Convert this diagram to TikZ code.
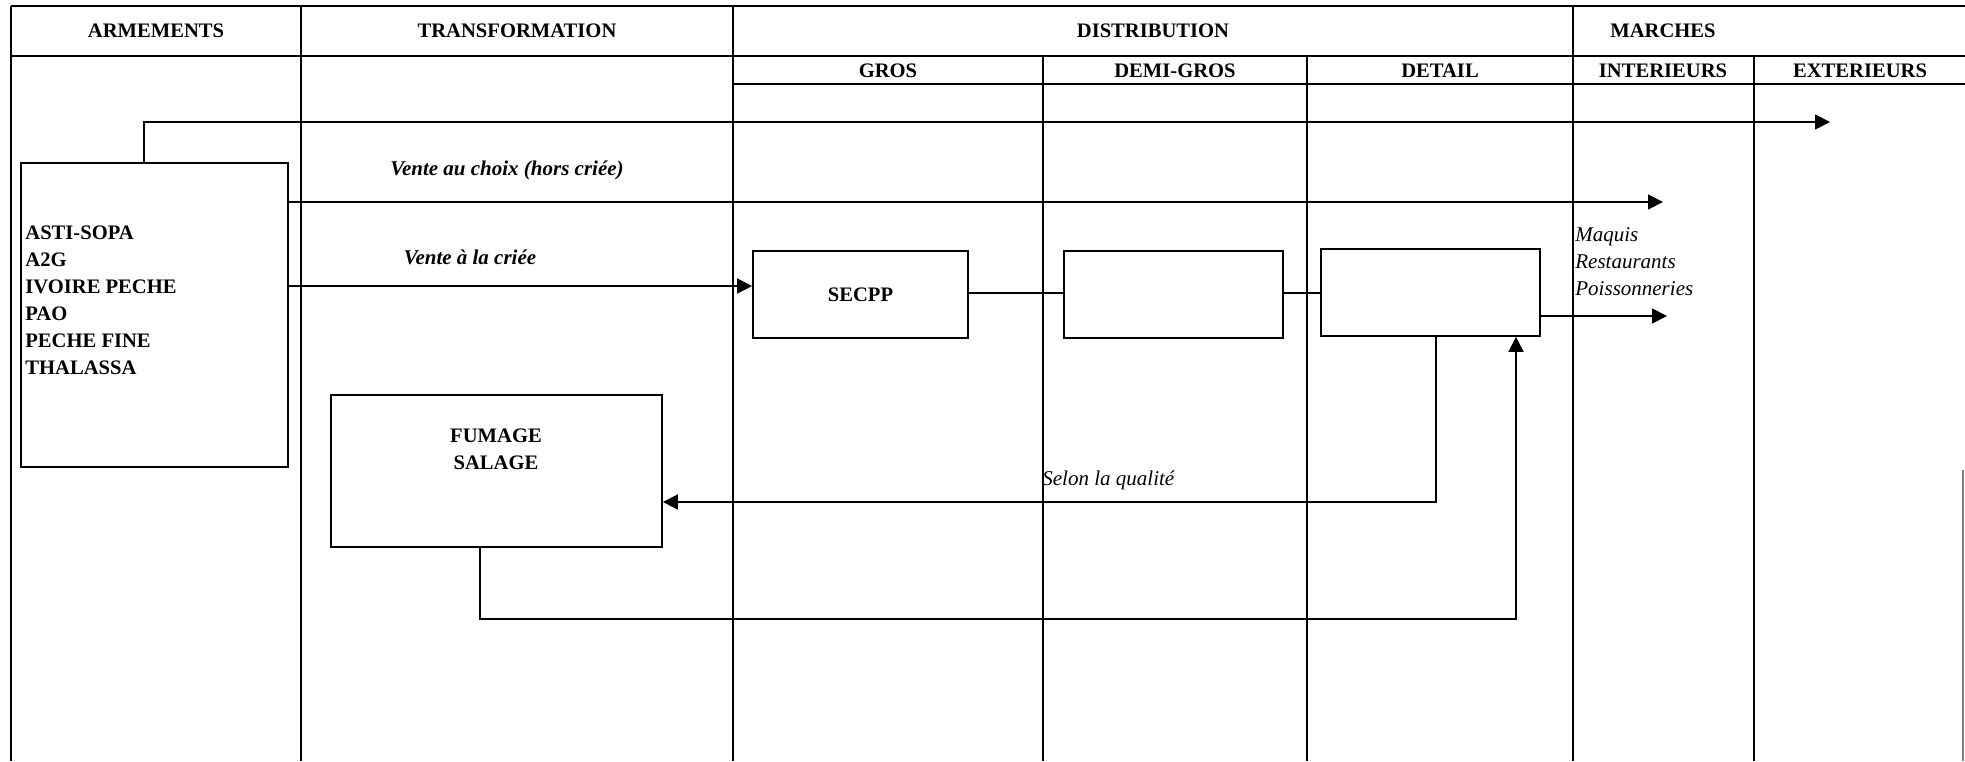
\documentclass[tikz,border=0pt]{standalone}
\usepackage{fontspec}
\setmainfont{Liberation Serif}
\usetikzlibrary{arrows.meta}
\begin{document}
\begin{tikzpicture}[x=0.5pt,y=-0.5pt,
  grid/.style={line width=0.9pt},
  box/.style={draw,rectangle,line width=0.9pt,inner sep=0pt},
  flow/.style={line width=0.9pt},
  arr/.style={flow,-{Triangle[length=7.5pt,width=7.5pt]}},
  head/.style={font=\fontsize{10.3}{12}\selectfont\bfseries,inner sep=0pt},
  boxtext/.style={font=\fontsize{10.3}{13.5}\selectfont\bfseries,inner sep=0pt},
  lab/.style={font=\fontsize{10.5}{13}\selectfont\bfseries\itshape,inner sep=0pt},
  note/.style={font=\fontsize{10.5}{13.5}\selectfont\itshape,align=left,inner sep=0pt},
]
\useasboundingbox (0,0) rectangle (1965,761);

% table frame
\draw[grid] (11,6) -- (1965,6);
\draw[grid] (11,56) -- (1965,56);
\draw[grid] (733,84) -- (1965,84);
\foreach \x in {11,301,733,1573} \draw[grid] (\x,6) -- (\x,761);
\foreach \x in {1043,1307,1754} \draw[grid] (\x,56) -- (\x,761);
\draw[gray,line width=0.6pt] (1963,470) -- (1963,761);

% column headings
\node[head] (hArm)   at (156,31)  {ARMEMENTS};
\node[head] (hTrans) at (517,31)  {TRANSFORMATION};
\node[head] (hDist)  at (1153,31) {DISTRIBUTION};
\node[head] (hMarch) at (1663,31) {MARCHES};
\node[head] (hGros)  at (888,71)  {GROS};
\node[head] (hDemi)  at (1175,71) {DEMI-GROS};
\node[head] (hDet)   at (1440,71) {DETAIL};
\node[head] (hInt)   at (1663,71) {INTERIEURS};
\node[head] (hExt)   at (1860,71) {EXTERIEURS};

% boxes
\node[box,minimum width=133.5pt,minimum height=152pt] (arm) at (154.5,315) {};
\node[boxtext,anchor=west,align=left] (armtext) at (25,300)
  {ASTI-SOPA\\A2G\\IVOIRE PECHE\\PAO\\PECHE FINE\\THALASSA};
\node[box,boxtext,minimum width=107.5pt,minimum height=43.5pt] (secpp) at (860.5,294.5) {SECPP};
\node[box,minimum width=109.5pt,minimum height=43.5pt] (demi) at (1173.5,294.5) {};
\node[box,minimum width=109.5pt,minimum height=43.5pt] (detail) at (1430.5,292.5) {};
\node[box,minimum width=165.5pt,minimum height=76pt] (fumage) at (496.5,471) {};
\node[boxtext,align=center] (fumtext) at (496,449) {FUMAGE\\SALAGE};

% labels
\node[lab] (lchoix) at (507,170) {Vente au choix (hors criée)};
\node[lab] (lcriee) at (470,257) {Vente à la criée};
\node[note,anchor=west] (lmarket) at (1575,262) {Maquis\\Restaurants\\Poissonneries};
\node[note,anchor=west] (lqual) at (1042,480) {Selon la qualité};

% flows
\coordinate (topturn) at (144,122);
\coordinate (topend) at (1830,122);
\draw[arr] (arm.north -| topturn) -- (topturn) -- (topend);

\coordinate (choixend) at (1663,202);
\draw[arr] (arm.east |- choixend) -- (choixend);

\coordinate (crielvl) at (0,286);
\draw[arr] (arm.east |- crielvl) -- (secpp.west |- crielvl);

\coordinate (chain) at (0,293);
\draw[flow] (secpp.east |- chain) -- (demi.west |- chain);
\draw[flow] (demi.east |- chain) -- (detail.west |- chain);

\coordinate (marketend) at (1667,316);
\draw[arr] (detail.east |- marketend) -- (marketend);

\coordinate (qualturn) at (1436,502);
\draw[arr] (detail.south -| qualturn) -- (qualturn) -- (fumage.east |- qualturn);

\coordinate (backleft) at (480,619);
\coordinate (backright) at (1516,619);
\draw[arr] (fumage.south -| backleft) -- (backleft) -- (backright) -- (detail.south -| backright);
\end{tikzpicture}
\end{document}
